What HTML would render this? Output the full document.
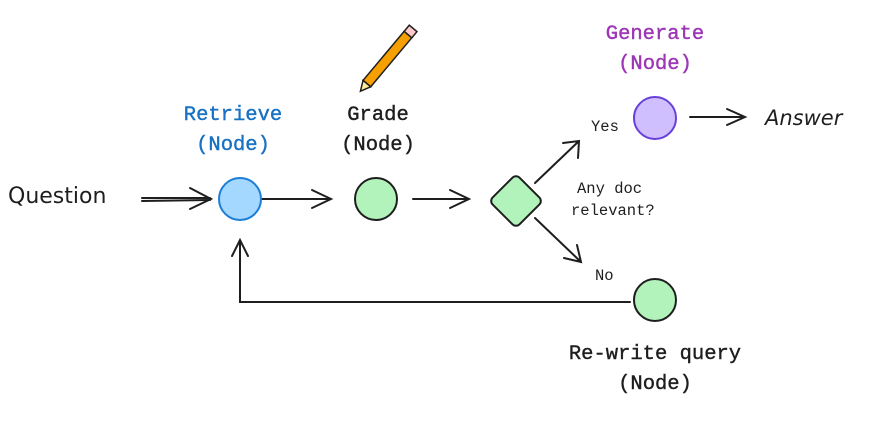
<!DOCTYPE html>
<html><head><style>
body{margin:0;background:#fff;}
svg{display:block}
.m{font-family:"Liberation Mono",monospace;}
.h{font-family:"DejaVu Sans","Liberation Sans",sans-serif;}
</style></head><body>
<svg width="875" height="430" viewBox="0 0 875 430" xmlns="http://www.w3.org/2000/svg">
<g stroke="#1e1e1e" stroke-width="2" fill="none" stroke-linecap="round">
<path d="M142 198 L210 198 M142 201 L210 200"/>
<path d="M190 188 L211 199 L190 209"/>
<path d="M262 199 L330 199 M312 190 L331 199 L312 208"/>
<path d="M413 199 L468 199 M450 190 L469 199 L450 208"/>
<path d="M535 183 L579 141 M563 143 L579 141 L578 158"/>
<path d="M535 218 L581 262 M577 245 L581 262 L564 258"/>
<path d="M690 117 L745 117 M727 109 L745 117 L727 125"/>
<path d="M630 302 L240 302 L240 240 M232 256 L240 240 L248 256"/>
</g>
<circle cx="240" cy="199" r="21" fill="#a5d8ff" stroke="#1c7ed6" stroke-width="2"/>
<circle cx="376" cy="199" r="21" fill="#b2f2bb" stroke="#1e1e1e" stroke-width="2"/>
<rect x="497" y="182" width="38" height="38" rx="5" fill="#b2f2bb" stroke="#1e1e1e" stroke-width="2" transform="rotate(45 516 201)"/>
<circle cx="655" cy="118" r="21" fill="#d0bfff" stroke="#6741d9" stroke-width="2"/>
<circle cx="655" cy="300" r="21" fill="#b2f2bb" stroke="#1e1e1e" stroke-width="2"/>
<g transform="translate(390 56) rotate(-50)">
<rect x="-36" y="-5" width="64" height="10" fill="#f59f00" stroke="#1e1e1e" stroke-width="1.5"/>
<rect x="28" y="-5" width="8" height="10" fill="#ffc9c9" stroke="#1e1e1e" stroke-width="1.5"/>
<path d="M-36 -5 L-46 0 L-36 5 Z" fill="#ffec99" stroke="#1e1e1e" stroke-width="1.5"/>
</g>
<g class="m" font-size="20.5" text-anchor="middle" stroke-width="0.4">
<text x="233" y="120" fill="#1971c2" stroke="#1971c2">Retrieve</text>
<text x="233" y="150" fill="#1971c2" stroke="#1971c2">(Node)</text>
<text x="378" y="120" fill="#1e1e1e" stroke="#1e1e1e">Grade</text>
<text x="378" y="150" fill="#1e1e1e" stroke="#1e1e1e">(Node)</text>
<text x="655" y="39" fill="#9c36b5" stroke="#9c36b5">Generate</text>
<text x="655" y="69" fill="#9c36b5" stroke="#9c36b5">(Node)</text>
<text x="655" y="359" fill="#1e1e1e" stroke="#1e1e1e">Re-write query</text>
<text x="655" y="389" fill="#1e1e1e" stroke="#1e1e1e">(Node)</text>
</g>
<g class="m" font-size="15.5" fill="#1e1e1e">
<text x="591" y="131">Yes</text>
<text x="595" y="280">No</text>
<text x="577" y="193">Any doc</text>
<text x="571" y="215">relevant?</text>
</g>
<text class="h" x="8" y="203" font-size="22" fill="#1e1e1e">Question</text>
<text class="h" x="765" y="125" font-size="21" font-style="italic" fill="#1e1e1e">Answer</text>
</svg>
</body></html>
